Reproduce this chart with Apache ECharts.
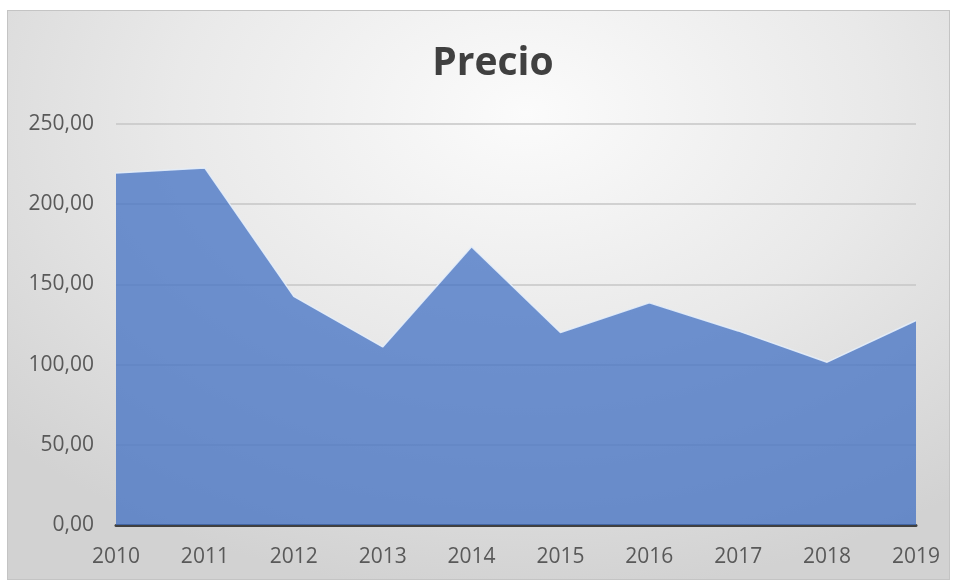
<!DOCTYPE html>
<html>
<head>
<meta charset="utf-8">
<script src="https://cdn.jsdelivr.net/npm/echarts@6/dist/echarts.min.js"></script>
<style>
  html, body { margin: 0; padding: 0; background: #ffffff; }
  #frame {
    position: absolute; left: 7px; top: 10px; width: 941px; height: 568px;
    border: 1px solid #c4c4c4;
    background: radial-gradient(ellipse 75% 85% at 55% 18%, #fbfbfb 0%, #e9e9e9 50%, #d2d2d2 100%);
  }
  #chart { width: 941px; height: 568px; }
</style>
</head>
<body>
<div id="frame"><div id="chart"></div></div>
<script>
var years = ['2010', '2011', '2012', '2013', '2014', '2015', '2016', '2017', '2018', '2019'];
var precio = [219.5, 222.5, 142.5, 111, 173.5, 120, 138.5, 121, 101.5, 127.5];

var myChart = echarts.init(document.getElementById('chart'));
var option = {
  backgroundColor: 'transparent',
  animation: false,
  title: {
    text: 'Precio',
    left: 480, top: 28, textAlign: 'center',
    textStyle: { fontFamily: 'Open Sans', fontSize: 39, fontWeight: 'bold', color: '#404040' }
  },
  grid: { left: 108, right: 33, top: 113, bottom: 54 },
  xAxis: {
    type: 'category',
    data: years,
    boundaryGap: false,
    axisLine: { lineStyle: { color: '#404040', width: 3 } },
    axisTick: { show: false },
    axisLabel: { color: '#595959', fontFamily: 'Open Sans', fontSize: 21, margin: 22 }
  },
  yAxis: {
    type: 'value',
    min: 0, max: 250, interval: 50,
    axisLine: { show: false },
    axisTick: { show: false },
    splitLine: { lineStyle: { color: '#c6c6c6', width: 1.5 } },
    axisLabel: {
      color: '#595959', fontFamily: 'Open Sans', fontSize: 21, margin: 22,
      formatter: function (v) { return v.toFixed(2).replace('.', ','); }
    }
  },
  series: [{
    type: 'line',
    data: precio,
    symbol: 'none',
    lineStyle: { color: 'rgba(230,238,250,0.9)', width: 1.5 },
    areaStyle: { color: 'rgba(68,114,196,0.76)', opacity: 1 }
  }]
};
myChart.setOption(option);
</script>
</body>
</html>
